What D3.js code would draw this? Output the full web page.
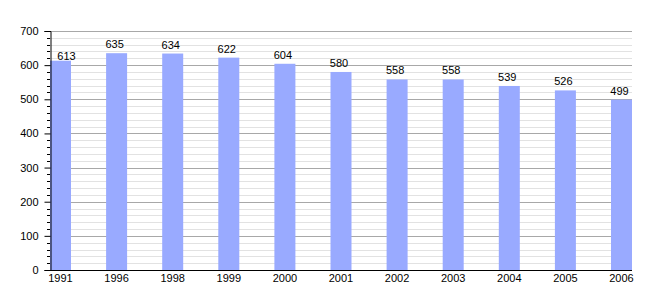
<!DOCTYPE html>
<html><head><meta charset="utf-8">
<script src="https://cdn.jsdelivr.net/npm/d3@7"></script>
<style>body{margin:0;background:#fff;} text{font-family:"Liberation Sans",Arial,sans-serif;}</style>
</head><body>
<svg id="c" width="661" height="300"></svg>
<script>
const years = ["1991","1996","1998","1999","2000","2001","2002","2003","2004","2005","2006"];
const values = [613,635,634,622,604,580,558,558,539,526,499];
const yTicks = [0,100,200,300,400,500,600,700];

(function(){
const svg = d3.select("#c");
const mLeft = 50, mRight = 632, mTop = 31, mBottom = 270, barW = 21;
const y = d3.scaleLinear().domain([0,700]).range([mBottom, mTop]);
const x = d3.scalePoint().domain(years).range([mLeft, mRight - barW]);

const minor = d3.range(0, 701, 20).filter(v => v % 100 !== 0);
svg.append("g").selectAll("line").data(minor).join("line")
  .attr("x1", mLeft).attr("x2", mRight)
  .attr("y1", d => Math.round(y(d)) + 0.5).attr("y2", d => Math.round(y(d)) + 0.5)
  .attr("stroke", "#e2e2e2").attr("stroke-width", 1);
svg.append("g").selectAll("line").data(yTicks.filter(v => v > 0)).join("line")
  .attr("x1", mLeft).attr("x2", mRight)
  .attr("y1", d => Math.round(y(d)) + 0.5).attr("y2", d => Math.round(y(d)) + 0.5)
  .attr("stroke", "#a8a8a8").attr("stroke-width", 1);

svg.append("g").selectAll("rect").data(values).join("rect")
  .attr("x", (d,i) => x(years[i]))
  .attr("width", barW)
  .attr("y", d => y(d))
  .attr("height", d => mBottom - y(d))
  .attr("fill", "#99aaff");

svg.append("g").selectAll("text").data(values).join("text")
  .attr("x", (d,i) => x(years[i]) + barW/2 - 2 + (i === 0 ? 8 : 0))
  .attr("y", (d,i) => y(d) - (i === 0 ? 1 : 5))
  .attr("text-anchor", "middle")
  .attr("font-size", 11).attr("fill", "#000")
  .text(d => d);

const yAxis = d3.axisLeft(y).tickValues(yTicks).tickSize(6).tickPadding(6);
const gy = svg.append("g").attr("transform", `translate(${mLeft+0.5},0)`).call(yAxis);
gy.selectAll("text").attr("font-size", 11).attr("font-family", '"Liberation Sans",Arial,sans-serif').attr("fill","#000");
gy.select(".domain").attr("stroke", "#000");
gy.selectAll(".tick line").attr("stroke", "#000");
svg.append("g").selectAll("line").data(minor).join("line")
  .attr("x1", mLeft - 3).attr("x2", mLeft)
  .attr("y1", d => Math.round(y(d)) + 0.5).attr("y2", d => Math.round(y(d)) + 0.5)
  .attr("stroke", "#000");

svg.append("line").attr("x1", mLeft).attr("x2", mRight)
  .attr("y1", mBottom + 0.5).attr("y2", mBottom + 0.5).attr("stroke", "#000");
svg.append("g").selectAll("text").data(years).join("text")
  .attr("x", d => x(d) + barW/2)
  .attr("y", mBottom + 12)
  .attr("text-anchor", "middle")
  .attr("font-size", 11).attr("fill", "#000")
  .text(d => d);
})();
</script>
</body></html>
